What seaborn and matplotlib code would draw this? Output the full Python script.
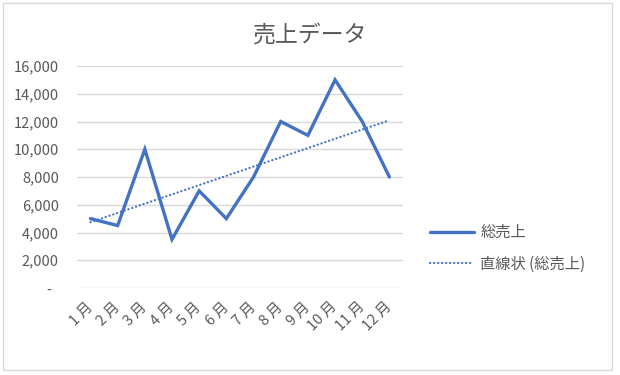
import matplotlib.pyplot as plt
import matplotlib.patches as patches
import numpy as np
import pandas as pd
import seaborn as sns

months = [1, 2, 3, 4, 5, 6, 7, 8, 9, 10, 11, 12]
month_labels = ["1 月", "2 月", "3 月", "4 月", "5 月", "6 月",
                "7 月", "8 月", "9 月", "10 月", "11 月", "12 月"]
sales = [5000, 4500, 10000, 3500, 7000, 5000, 8000, 12000, 11000, 15000, 12000, 8000]
y_ticks = [0, 2000, 4000, 6000, 8000, 10000, 12000, 14000, 16000]

df = pd.DataFrame({"month": months, "sales": sales})

sns.set_style("white")
plt.rcParams["font.family"] = ["Noto Sans CJK JP", "DejaVu Sans"]

blue = "#4472C4"
grey_text = "#595959"

fig = plt.figure(figsize=(6.2, 3.75), dpi=100)
ax = fig.add_axes([0.124, 0.232, 0.526, 0.592])

# chart border (Excel chart area)
fig.patches.append(patches.Rectangle((0.005, 0.013), 0.982, 0.98, transform=fig.transFigure,
                                     fill=False, edgecolor="#D9D9D9", linewidth=1))

sns.lineplot(data=df, x="month", y="sales", ax=ax, color=blue, linewidth=2.4,
             label="総売上", solid_capstyle="round", solid_joinstyle="miter")
sns.regplot(data=df, x="month", y="sales", ax=ax, scatter=False, ci=None,
            label="直線状 (総売上)",
            line_kws={"color": blue, "linewidth": 1.6, "linestyle": (0, (0.1, 1.7)),
                      "dash_capstyle": "round"})

ax.set_xlim(0.5, 12.5)
ax.set_ylim(0, 16000)
ax.set_yticks(y_ticks)
ax.set_yticklabels(["-  "] + [f"{v:,}" for v in y_ticks[1:]])
ax.set_xticks(months)
ax.set_xticklabels(month_labels, rotation=45, ha="right", va="center", rotation_mode="anchor")
ax.tick_params(axis="x", pad=12, labelsize=10.5, colors=grey_text, length=0)
ax.tick_params(axis="y", pad=13, labelsize=10.5, colors=grey_text, length=0)
ax.yaxis.grid(True, color="#D9D9D9", linewidth=1)
ax.xaxis.grid(False)
ax.set_xlabel("")
ax.set_ylabel("")
for s in ax.spines.values():
    s.set_visible(False)

fig.text(0.5, 0.905, "売上データ", ha="center", va="center", fontsize=16.5, color=grey_text)

leg = ax.legend(loc="center left", bbox_to_anchor=(0.671, 0.338), bbox_transform=fig.transFigure,
                frameon=False, fontsize=11, labelspacing=0.95, handlelength=2.9, handletextpad=0.4)
for t in leg.get_texts():
    t.set_color(grey_text)

fig.savefig("out.png", dpi=100)
